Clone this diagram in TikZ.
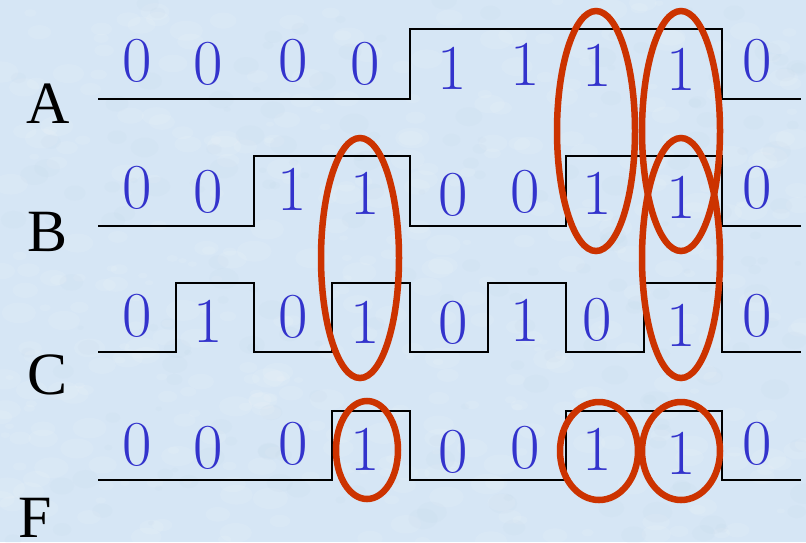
\documentclass[tikz,border=0pt]{standalone}
\usepackage{fontspec}
\newfontfamily\lettfont{Liberation Serif}
\definecolor{paper}{RGB}{214,230,245}
\definecolor{paperdark}{RGB}{185,205,228}
\definecolor{bitblue}{RGB}{51,51,204}
\definecolor{ringred}{RGB}{204,51,0}
\tikzset{
  wave/.style={draw=black, line width=1.8pt, line join=miter},
  bit/.style={text=bitblue, inner sep=0pt, font=\fontsize{64}{64}\selectfont},
  sig/.style={text=black, inner sep=0pt, font=\lettfont\fontsize{60}{60}\selectfont},
  ring/.style={draw=ringred, line width=6.5pt}
}
\begin{document}
\begin{tikzpicture}[x=1pt,y=-1pt]
% paper background with a soft mottled texture
\fill[paper] (0,0) rectangle (806,542);
\useasboundingbox (0,0) rectangle (806,542);
\pgfmathsetseed{4021}
\begin{scope}
\clip (0,0) rectangle (806,542);
\foreach \k in {1,...,420}{
  \pgfmathsetmacro{\px}{rnd*806}
  \pgfmathsetmacro{\py}{rnd*542}
  \pgfmathsetmacro{\pr}{4+rnd*14}
  \fill[white, opacity=0.09] (\px,\py) ellipse[x radius=\pr, y radius=0.6*\pr];
}
\foreach \k in {1,...,200}{
  \pgfmathsetmacro{\px}{rnd*806}
  \pgfmathsetmacro{\py}{rnd*542}
  \pgfmathsetmacro{\pr}{3+rnd*12}
  \fill[paperdark, opacity=0.08] (\px,\py) ellipse[x radius=\pr, y radius=0.7*\pr];
}
\end{scope}

% signal names
\node[sig] (lA) at (48,104) {A};
\node[sig] (lB) at (48,232) {B};
\node[sig] (lC) at (48,375) {C};
\node[sig] (lF) at (35,518) {F};

% waveforms
\draw[wave] (98,99) -- (410,99) -- (410,29) -- (722,29) -- (722,99) -- (801,99);
\draw[wave] (98,226) -- (254,226) -- (254,156) -- (410,156) -- (410,226)
  -- (566,226) -- (566,156) -- (722,156) -- (722,226) -- (801,226);
\draw[wave] (98,352) -- (176,352) -- (176,283) -- (254,283) -- (254,352)
  -- (332,352) -- (332,283) -- (410,283) -- (410,352) -- (488,352)
  -- (488,283) -- (566,283) -- (566,352) -- (644,352) -- (644,283)
  -- (722,283) -- (722,352) -- (801,352);
\draw[wave] (98,480) -- (332,480) -- (332,411) -- (410,411) -- (410,480)
  -- (566,480) -- (566,411) -- (722,411) -- (722,480) -- (801,480);

% bit values, row A
\node[bit] (a1) at (137,61) {0};
\node[bit] (a2) at (208,64) {0};
\node[bit] (a3) at (293,61) {0};
\node[bit] (a4) at (365,64) {0};
\node[bit] (a5) at (452,68) {1};
\node[bit] (a6) at (525,64) {1};
\node[bit] (a7) at (597,65) {1};
\node[bit] (a8) at (681,69) {1};
\node[bit] (a9) at (757,61) {0};
% row B
\node[bit] (b1) at (137,188) {0};
\node[bit] (b2) at (208,192) {0};
\node[bit] (b3) at (292,189) {1};
\node[bit] (b4) at (365,193) {1};
\node[bit] (b5) at (453,195) {0};
\node[bit] (b6) at (525,192) {0};
\node[bit] (b7) at (597,193) {1};
\node[bit] (b8) at (681,197) {1};
\node[bit] (b9) at (757,188) {0};
% row C
\node[bit] (c1) at (137,316) {0};
\node[bit] (c2) at (208,321) {1};
\node[bit] (c3) at (293,317) {0};
\node[bit] (c4) at (365,322) {1};
\node[bit] (c5) at (453,323) {0};
\node[bit] (c6) at (525,320) {1};
\node[bit] (c7) at (597,320) {0};
\node[bit] (c8) at (681,325) {1};
\node[bit] (c9) at (757,316) {0};
% row F
\node[bit] (f1) at (137,445) {0};
\node[bit] (f2) at (208,448) {0};
\node[bit] (f3) at (293,444) {0};
\node[bit] (f4) at (365,449) {1};
\node[bit] (f5) at (453,452) {0};
\node[bit] (f6) at (525,448) {0};
\node[bit] (f7) at (597,449) {1};
\node[bit] (f8) at (681,453) {1};
\node[bit] (f9) at (757,444) {0};

% rings marking the ones that make F high
\draw[ring] (596,131) ellipse[x radius=39, y radius=120];
\draw[ring] (681,131) ellipse[x radius=39, y radius=120];
\draw[ring] (681,258) ellipse[x radius=39, y radius=120];
\draw[ring] (360,258) ellipse[x radius=39, y radius=120];
\draw[ring] (367,450) ellipse[x radius=31, y radius=49];
\draw[ring] (599,451) ellipse[x radius=39, y radius=49];
\draw[ring] (681,451) ellipse[x radius=39, y radius=49];
\end{tikzpicture}
\end{document}
